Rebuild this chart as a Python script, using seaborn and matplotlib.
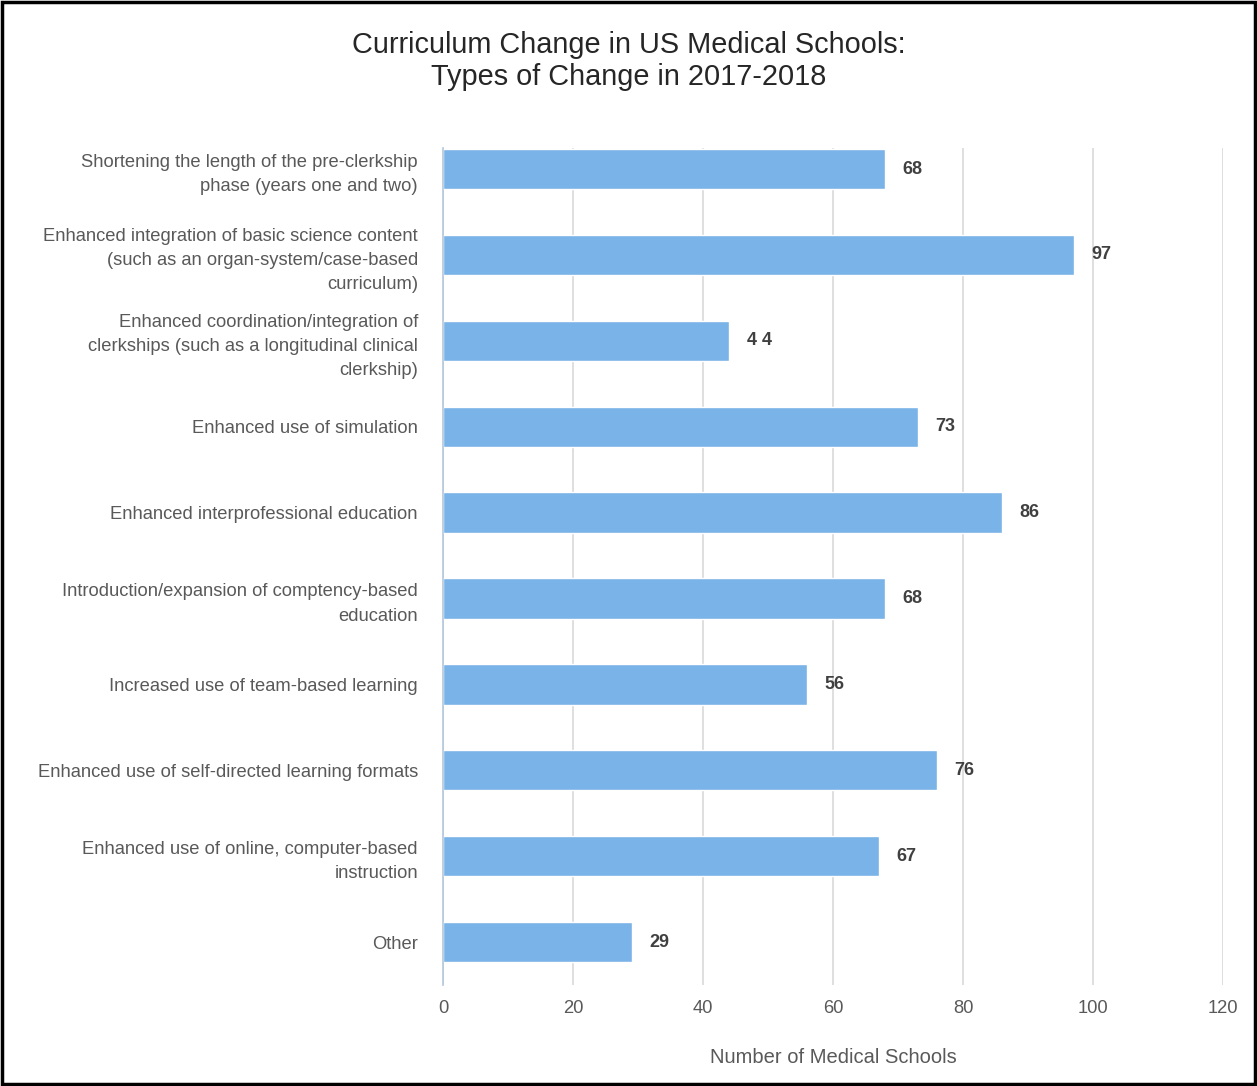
import matplotlib
matplotlib.use("Agg")
import matplotlib.pyplot as plt
import seaborn as sns
import pandas as pd
from matplotlib.patches import Rectangle

categories = [
    "Shortening the length of the pre-clerkship\nphase (years one and two)",
    "Enhanced integration of basic science content\n(such as an organ-system/case-based\ncurriculum)",
    "Enhanced coordination/integration of\nclerkships (such as a longitudinal clinical\nclerkship)",
    "Enhanced use of simulation",
    "Enhanced interprofessional education",
    "Introduction/expansion of comptency-based\neducation",
    "Increased use of team-based learning",
    "Enhanced use of self-directed learning formats",
    "Enhanced use of online, computer-based\ninstruction",
    "Other",
]
values = [68, 97, 44, 73, 86, 68, 56, 76, 67, 29]
value_labels = ["68", "97", "4 4", "73", "86", "68", "56", "76", "67", "29"]
x_ticks = [0, 20, 40, 60, 80, 100, 120]

sns.set_theme(style="white")
plt.rcParams["font.family"] = ["Liberation Sans", "DejaVu Sans"]

df = pd.DataFrame({"cat": categories, "val": values})

fig = plt.figure(figsize=(12.57, 10.86), dpi=100)
ax = fig.add_axes([443/1257, 1-985/1086, (1223-443)/1257, (985-148)/1086])

sns.barplot(data=df, x="val", y="cat", orient="h", color="#7ab3e8",
            saturation=1, width=0.47, ax=ax, zorder=3)

ax.set_xlim(0, 120)
ax.set_ylim(9.5, -0.245)
ax.set_xticks(x_ticks)
ax.set_xticklabels([str(t) for t in x_ticks])
ax.grid(axis="x", color="#d9d9d9", linewidth=1.2, zorder=0)
ax.grid(axis="y", visible=False)
for s in ["top", "right", "bottom"]:
    ax.spines[s].set_visible(False)
ax.spines["left"].set_color("#b4c7dc")
ax.spines["left"].set_linewidth(1.2)
ax.spines["left"].set_zorder(4)

ax.tick_params(axis="y", length=0, pad=18, labelsize=13.2, labelcolor="#595959")
ax.tick_params(axis="x", length=0, pad=11, labelsize=13.2, labelcolor="#595959")
for lab in ax.get_yticklabels():
    lab.set_multialignment("right")
    lab.set_linespacing(1.55)

ax.set_ylabel("")
ax.set_xlabel("Number of Medical Schools", fontsize=14.5, color="#595959", labelpad=22)

for i, (v, t) in enumerate(zip(values, value_labels)):
    ax.text(v + 2.7, i, t, va="center", ha="left", fontsize=13,
            fontweight="bold", color="#404040")

fig.text(0.5, 1-61/1086, "Curriculum Change in US Medical Schools:\nTypes of Change in 2017-2018",
         ha="center", va="center", fontsize=20.8, color="#262626", linespacing=1.22)

fig.patches.append(Rectangle((0.0015, 0.0015), 0.997, 0.997, transform=fig.transFigure,
                             fill=False, edgecolor="black", linewidth=2.5))

fig.savefig("out.png", dpi=100)
